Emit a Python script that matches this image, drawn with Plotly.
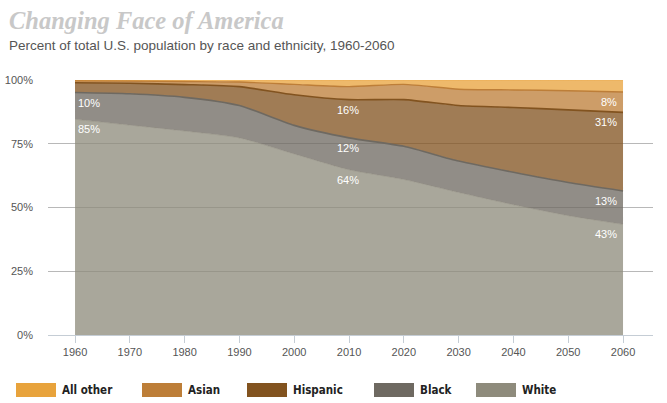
import plotly.graph_objects as go
import numpy as np

# ---------------- data ----------------
years = [1960, 1970, 1980, 1990, 2000, 2010, 2020, 2030, 2040, 2050, 2060]
white = [84.6, 82.3, 80.0, 77.3, 71.0, 64.8, 61.0, 55.9, 51.1, 46.8, 43.4]
black = [10.5, 12.3, 13.2, 12.7, 11.2, 12.5, 13.0, 12.3, 12.7, 13.0, 13.1]
hispanic = [3.8, 4.1, 5.0, 7.4, 12.0, 15.0, 18.3, 21.8, 25.4, 28.5, 30.8]
asian = [0.8, 0.9, 1.2, 1.8, 4.1, 5.1, 6.0, 6.4, 6.9, 7.5, 8.0]
all_other = [0.3, 0.4, 0.6, 0.8, 1.7, 2.6, 1.7, 3.6, 3.9, 4.2, 4.7]

series_names = ["White", "Black", "Hispanic", "Asian", "All other"]
series_values = [white, black, hispanic, asian, all_other]
series_colors = ["#8e8b7c", "#6e6961", "#82531f", "#bd7e38", "#e8a33c"]
line_widths = [0.5, 1.6, 1.6, 1.4, 0.5]

y_ticks = [0, 25, 50, 75, 100]

label_series = ["Black", "White", "Hispanic", "Black", "White", "Asian", "Hispanic", "Black", "White"]
label_years = [1960, 1960, 2010, 2010, 2010, 2060, 2060, 2060, 2060]
label_texts = ["10%", "85%", "16%", "12%", "64%", "8%", "31%", "13%", "43%"]

legend_order = ["All other", "Asian", "Hispanic", "Black", "White"]
legend_px = [16, 142, 247, 374, 476]

title_text = "Changing Face of America"
subtitle_text = "Percent of total U.S. population by race and ethnicity, 1960-2060"

# ---------------- layout constants ----------------
W, H = 667, 403
ML, MR, MT, MB = 48, 14, 80, 68
PW = W - ML - MR
PH = H - MT - MB


def px_x(px):
    return (px - ML) / PW


def px_y(py):
    return (H - MB - py) / PH


def rgba(hexc, a):
    h = hexc.lstrip("#")
    r, g, b = int(h[0:2], 16), int(h[2:4], 16), int(h[4:6], 16)
    return f"rgba({r},{g},{b},{a})"


fig = go.Figure()
for name, vals, col, lw in zip(series_names, series_values, series_colors, line_widths):
    fig.add_trace(go.Scatter(
        x=years, y=vals, name=name, mode="lines",
        stackgroup="one",
        line=dict(color=col, width=lw, shape="spline", smoothing=0.6),
        fillcolor=rgba(col, 0.76),
        hoverinfo="skip",
        showlegend=False,
    ))

# cumulative tops
cum = np.cumsum(np.array(series_values), axis=0)
idx = {n: i for i, n in enumerate(series_names)}

annotations = []
for s, yr, t in zip(label_series, label_years, label_texts):
    j = years.index(yr)
    yv = float(cum[idx[s], j])
    if yr == years[0]:
        xa, xs = "left", 1
    elif yr == years[-1]:
        xa, xs = "right", -4
    else:
        xa, xs = "center", -1
    annotations.append(dict(
        x=yr, y=yv, xref="x", yref="y", text=t, showarrow=False,
        xanchor=xa, yanchor="middle", xshift=xs, yshift=-10,
        font=dict(family="Liberation Sans, Arial, sans-serif", size=11, color="white"),
    ))

# title / subtitle
annotations.append(dict(
    x=px_x(7), y=px_y(21), xref="paper", yref="paper", text=title_text,
    showarrow=False, xanchor="left", yanchor="middle",
    font=dict(family="Liberation Serif, Georgia, serif", size=24.5, color="#c8c8c8",
              weight="bold", style="italic"),
))
annotations.append(dict(
    x=px_x(7), y=px_y(45), xref="paper", yref="paper", text=subtitle_text,
    showarrow=False, xanchor="left", yanchor="middle",
    font=dict(family="Liberation Sans, Arial, sans-serif", size=13.5, color="#555555"),
))

# manual legend
shapes = []
for name, px in zip(legend_order, legend_px):
    col = series_colors[series_names.index(name)]
    shapes.append(dict(type="rect", xref="paper", yref="paper",
                       x0=px_x(px), x1=px_x(px + 40), y0=px_y(397), y1=px_y(383),
                       fillcolor=col, line=dict(width=0), layer="above"))
    annotations.append(dict(
        x=px_x(px + 44), y=px_y(390), xref="paper", yref="paper",
        text=f"<b>{name}</b>", showarrow=False, xanchor="left", yanchor="middle",
        font=dict(family="Liberation Sans Narrow, DejaVu Sans Condensed, Arial Narrow, sans-serif",
                  size=11.5, color="#222222"),
    ))

tick_font = dict(family="Liberation Sans, Arial, sans-serif", size=11, color="#555555")

fig.update_layout(
    width=W, height=H,
    margin=dict(l=ML, r=MR, t=MT, b=MB, pad=0, autoexpand=False),
    paper_bgcolor="white", plot_bgcolor="white",
    showlegend=False,
    annotations=annotations,
    shapes=shapes,
    xaxis=dict(
        range=[1955.07, 2065.47],
        tickvals=years, ticktext=[str(y) for y in years],
        showgrid=False, zeroline=False, automargin=False,
        showline=True, linecolor="#c5cdd5", linewidth=1,
        ticks="outside", ticklen=7, tickcolor="#c5cdd5", tickwidth=1,
        tickfont=tick_font,
    ),
    yaxis=dict(
        range=[0, 100],
        tickvals=y_ticks, ticktext=[f"{v}%" for v in y_ticks],
        showgrid=True, gridcolor="#b8b8b8", gridwidth=1,
        zeroline=False, showline=False, ticks="", automargin=False,
        tickfont=tick_font, ticklabelstandoff=14,
    ),
)

fig.write_html("out.html", config={"displayModeBar": False},
               post_script="document.body.style.margin='0px';")
